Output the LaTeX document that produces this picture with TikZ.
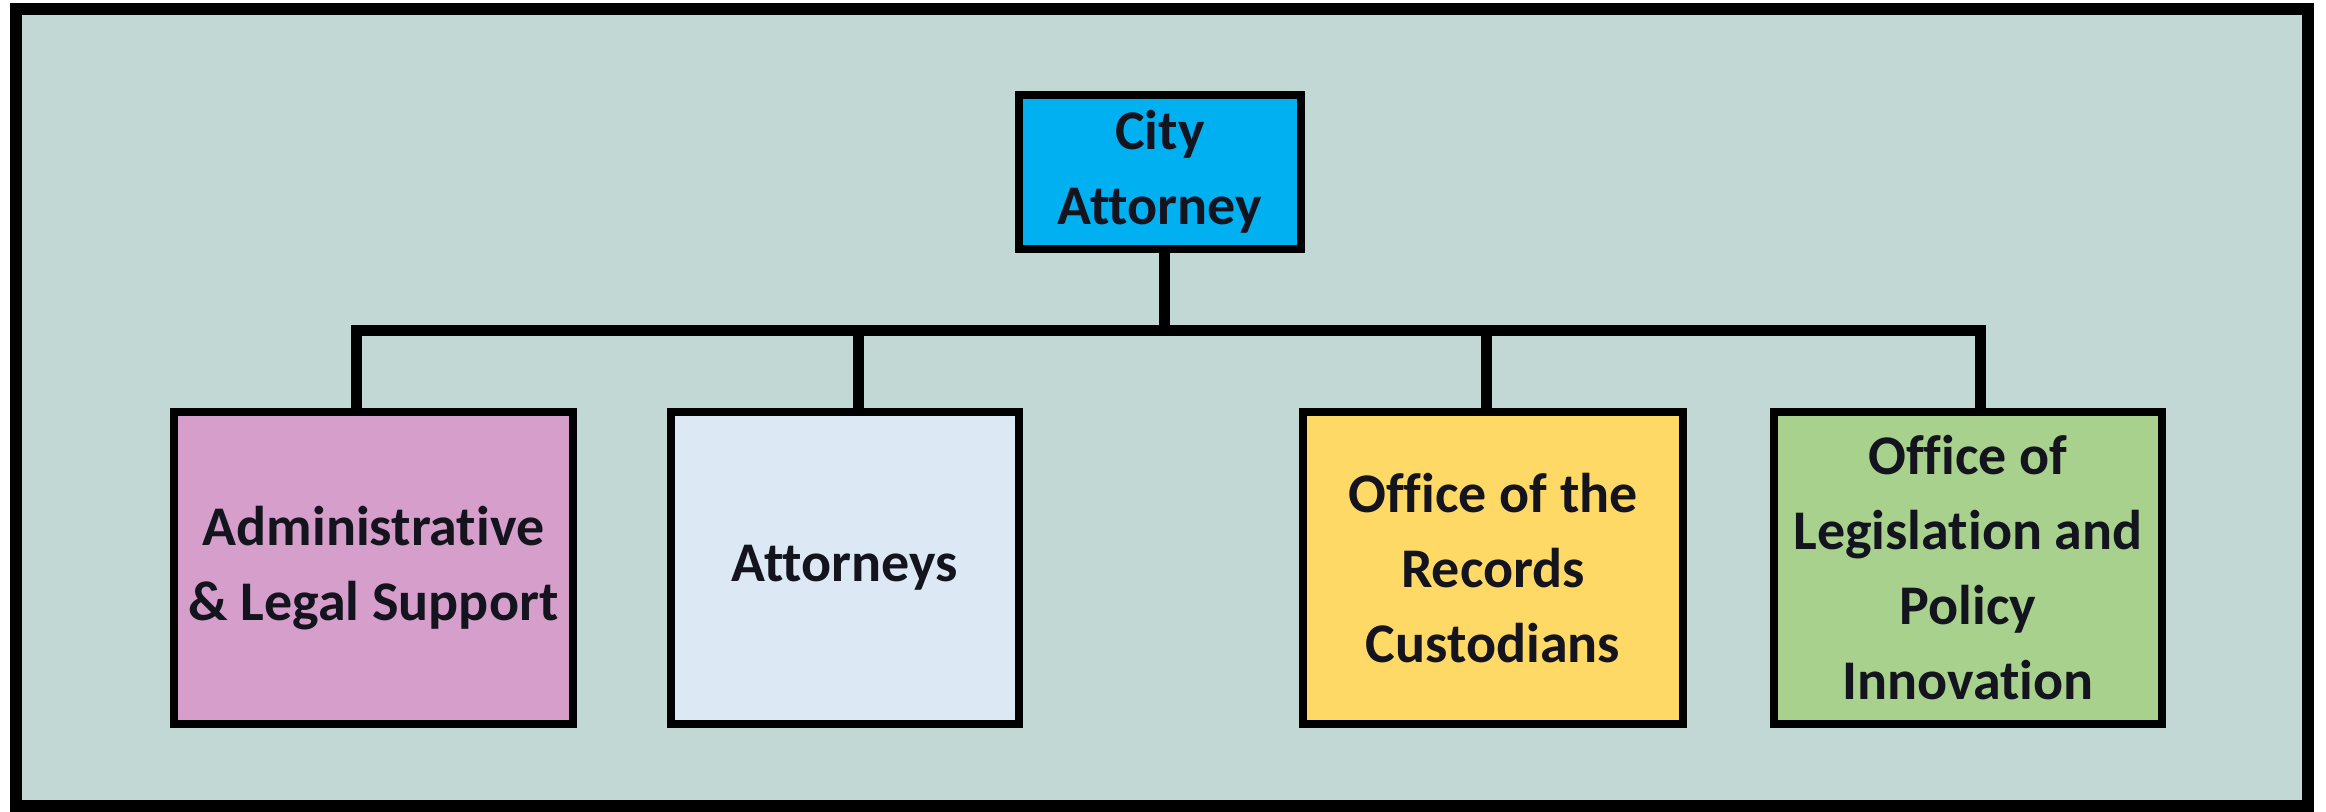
\documentclass[tikz,border=0pt]{standalone}
\usepackage{fontspec}
\setmainfont{Carlito}[Ligatures=NoCommon]
\usepackage{xcolor}
\definecolor{panel}{RGB}{193,216,213}
\definecolor{chief}{RGB}{0,176,240}
\definecolor{support}{RGB}{213,158,203}
\definecolor{lawyers}{RGB}{221,232,245}
\definecolor{records}{RGB}{255,217,102}
\definecolor{policy}{RGB}{169,209,142}
\definecolor{ink}{RGB}{20,20,30}
\newlength{\dpx}
\setlength{\dpx}{0.5pt}

\begin{document}
\begin{tikzpicture}[
    box/.style={draw=black,line width=8\dpx,inner sep=0pt,align=center,
        text=ink,font=\fontsize{28}{37.5}\selectfont\bfseries},
    link/.style={draw=black,line width=11\dpx}]
    % Page
    \fill[white] (0\dpx,0\dpx) rectangle (2326\dpx,811\dpx);
    \useasboundingbox (0\dpx,0\dpx) rectangle (2326\dpx,811\dpx);
    % Panel
    \draw[line width=12\dpx,fill=panel] (15.5\dpx,5.5\dpx) rectangle (2307.5\dpx,802\dpx);
    % City Attorney
    \node[box,fill=chief,minimum width=282\dpx,minimum height=154\dpx] (city) at (1160\dpx,639\dpx) {City\\Attorney};
    % Divisions
    \node[box,fill=support,minimum width=399\dpx,minimum height=312\dpx] (admin) at (373.5\dpx,243\dpx) {Administrative\\\& Legal Support};
    \node[box,fill=lawyers,minimum width=348\dpx,minimum height=312\dpx] (attys) at (845\dpx,243\dpx) {Attorneys};
    \node[box,fill=records,minimum width=380\dpx,minimum height=312\dpx] (records) at (1493\dpx,243\dpx) {Office of the\\Records\\Custodians};
    \node[box,fill=policy,minimum width=388\dpx,minimum height=312\dpx] (legis) at (1968\dpx,243\dpx) {Office of\\Legislation and\\Policy\\Innovation};
    % Connectors
    \coordinate (bar) at (1164\dpx,480.5\dpx);
    \draw[link] ([xshift=4\dpx]city.south) -- (bar);
    \draw[link] ([xshift=-17.5\dpx]admin.north) |- (bar) -| ([xshift=12\dpx]legis.north);
    \draw[link] ([xshift=13\dpx]attys.north) |- (bar);
    \draw[link] ([xshift=-7\dpx]records.north) |- (bar);
\end{tikzpicture}
\end{document}
